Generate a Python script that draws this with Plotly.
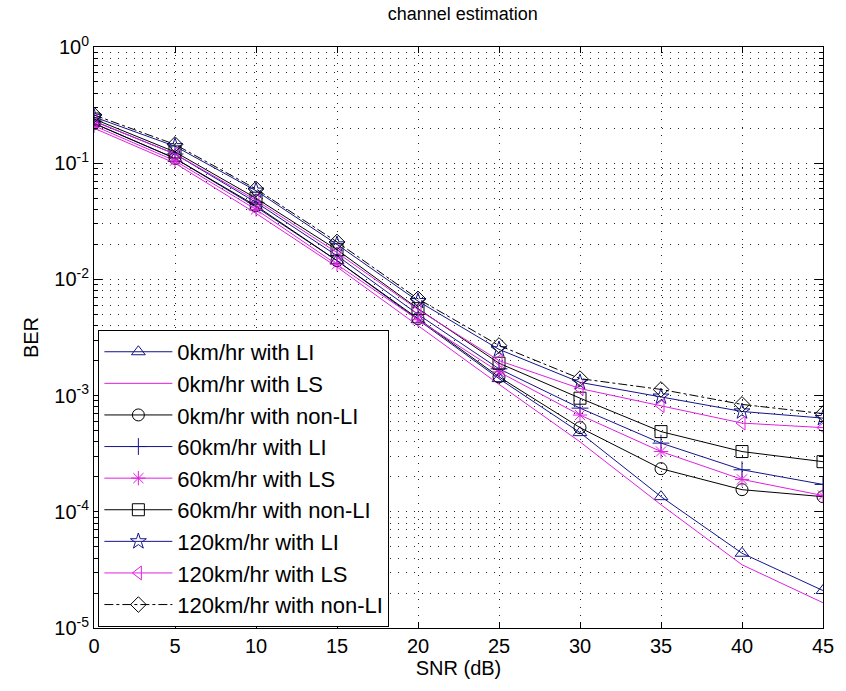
import plotly.graph_objects as go

snr = [0, 5, 10, 15, 20, 25, 30, 35, 40, 45]

ber_0_li = [0.22, 0.11, 0.042, 0.0145, 0.0045, 0.0014, 0.00048, 0.000135, 4.4e-5, 2.1e-5]
ber_0_ls = [0.20, 0.100, 0.037, 0.0128, 0.0040, 0.00125, 0.00040, 0.000115, 3.5e-5, 1.65e-5]
ber_0_nonli = [0.22, 0.11, 0.043, 0.0145, 0.0046, 0.00145, 0.00053, 0.000235, 0.000155, 0.000135]
ber_60_li = [0.23, 0.12, 0.046, 0.016, 0.0050, 0.0017, 0.00078, 0.00039, 0.00023, 0.000172]
ber_60_ls = [0.21, 0.105, 0.040, 0.0135, 0.0045, 0.0016, 0.00068, 0.00033, 0.00019, 0.000138]
ber_60_nonli = [0.24, 0.125, 0.050, 0.018, 0.0056, 0.0019, 0.00095, 0.00049, 0.00033, 0.00027]
ber_120_li = [0.25, 0.14, 0.058, 0.020, 0.0065, 0.0025, 0.0013, 0.00098, 0.00073, 0.00064]
ber_120_ls = [0.23, 0.12, 0.048, 0.017, 0.0055, 0.0020, 0.00115, 0.00082, 0.00058, 0.00053]
ber_120_nonli = [0.26, 0.145, 0.060, 0.021, 0.0068, 0.0027, 0.0014, 0.00113, 0.00084, 0.00070]

names = ["0km/hr with LI", "0km/hr with LS", "0km/hr with non-LI",
         "60km/hr with LI", "60km/hr with LS", "60km/hr with non-LI",
         "120km/hr with LI", "120km/hr with LS", "120km/hr with non-LI"]
series = [ber_0_li, ber_0_ls, ber_0_nonli, ber_60_li, ber_60_ls, ber_60_nonli,
          ber_120_li, ber_120_ls, ber_120_nonli]

x_ticks = [0, 5, 10, 15, 20, 25, 30, 35, 40, 45]
y_tickvals = [1e-5, 1e-4, 1e-3, 1e-2, 1e-1, 1]
y_ticktext = ["10<sup>-5</sup>", "10<sup>-4</sup>", "10<sup>-3</sup>",
              "10<sup>-2</sup>", "10<sup>-1</sup>", "10<sup>0</sup>"]

BLUE = "#14148c"
MAG = "#e020e0"
BLK = "#000000"
styles = [
    (BLUE, "triangle-up-open", "solid", True),
    (MAG, "circle", "solid", False),
    (BLK, "circle-open", "solid", True),
    (BLUE, "cross-thin-open", "solid", True),
    (MAG, "asterisk-open", "solid", True),
    (BLK, "square-open", "solid", True),
    (BLUE, "star-open", "solid", True),
    (MAG, "triangle-left-open", "solid", True),
    (BLK, "diamond-open", "dashdot", True),
]

FONT = "Liberation Sans, Arial, sans-serif"

fig = go.Figure()
for name, ys, (col, sym, dash, has_marker) in zip(names, series, styles):
    fig.add_trace(go.Scatter(
        x=snr, y=ys, name=name,
        mode="lines+markers" if has_marker else "lines",
        line=dict(color=col, width=1, dash=dash),
        marker=dict(symbol=sym, size=12, color=col, line=dict(color=col, width=1)),
    ))

minor_vals = [k * 10.0 ** e for e in range(-5, 0) for k in range(2, 10)]

fig.update_layout(
    width=846, height=691,
    margin=dict(l=94, r=14, t=47, b=63),
    paper_bgcolor="white", plot_bgcolor="white",
    font=dict(family=FONT, size=20, color="black"),
    title=dict(text="channel estimation", x=0.547, xanchor="center", y=0.99, yanchor="top",
               font=dict(family=FONT, size=18, color="black")),
    legend=dict(x=0.006, y=0.513, xanchor="left", yanchor="top",
                bgcolor="white", bordercolor="black", borderwidth=1,
                font=dict(family=FONT, size=22, color="black"),
                itemwidth=68,
                tracegroupgap=0),
    showlegend=True,
)

fig.update_xaxes(
    range=[0, 45], tickvals=x_ticks,
    showline=True, linecolor="black", linewidth=1, mirror="ticks",
    ticks="inside", ticklen=6, tickcolor="black",
    showgrid=True, gridcolor="#222222", gridwidth=1, griddash="1px,7px",
    zeroline=False,
    title=dict(text="SNR (dB)", font=dict(family=FONT, size=20), standoff=4),
    tickfont=dict(family=FONT, size=20),
)
fig.update_yaxes(
    type="log", range=[-5, 0], tickvals=y_tickvals, ticktext=y_ticktext,
    showline=True, linecolor="black", linewidth=1, mirror="ticks",
    ticks="inside", ticklen=8, tickcolor="black",
    showgrid=True, gridcolor="#222222", gridwidth=1, griddash="1px,7px",
    minor=dict(tickvals=minor_vals, ticks="inside", ticklen=4, tickcolor="black",
               showgrid=True, gridcolor="#222222", gridwidth=1, griddash="1px,7px"),
    zeroline=False,
    title=dict(text="BER", font=dict(family=FONT, size=20), standoff=10),
    tickfont=dict(family=FONT, size=20),
)

fig.write_html("out.html")
